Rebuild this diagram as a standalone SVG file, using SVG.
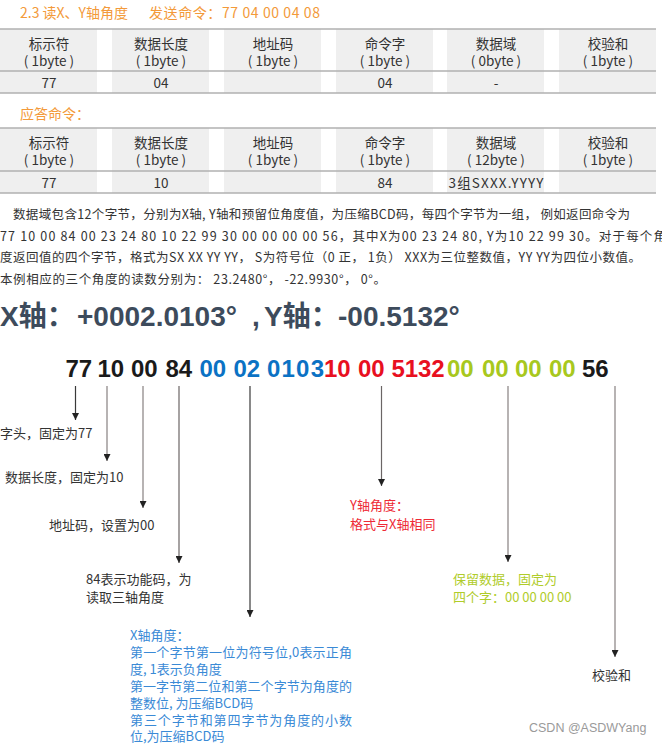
<svg xmlns="http://www.w3.org/2000/svg" width="662" height="745" viewBox="0 0 662 745">
<defs>
<style>
.cjk{font-family:"Noto Sans CJK SC","Noto Sans",sans-serif;}
.t{font-size:13px;fill:#333;}
.th{font-size:13.5px;fill:#333;text-anchor:middle;}
.orange{font-size:14px;fill:#F39A3A;}
.cell{fill:#efefef;}
.rule{stroke:#b0b0b0;stroke-width:1.5;}
.para{font-size:12.5px;fill:#333;}
.big{font-family:"Liberation Sans","Noto Sans CJK SC",sans-serif;font-weight:bold;font-size:28px;fill:#3d4b5c;}
.bytes{font-family:"Liberation Sans",Arial,sans-serif;font-weight:bold;font-size:24px;}
.k{fill:#1a1a1a;} .b{fill:#0b72c4;} .r{fill:#e8101f;} .g{fill:#a8c81e;}
.lblue{fill:#3a8ad6;} .lred{fill:#ee2a36;} .lgreen{fill:#b0cc2a;}
.dark{stroke:#3a3a3a;stroke-width:1.2;fill:none;}
.mid{stroke:#6b6565;stroke-width:1.2;fill:none;}
.light{stroke:#a5a0a0;stroke-width:1.6;fill:none;}
</style>
<marker id="ah" viewBox="0 0 8 8" refX="8" refY="4" markerWidth="7" markerHeight="7" markerUnits="userSpaceOnUse" orient="auto">
<path d="M0,0 L8,4 L0,8 z" fill="#222"/>
</marker>
</defs>
<rect width="662" height="745" fill="#fff"/>

<g id="title">
<text class="cjk orange" x="20" y="18">2.3 读X、Y轴角度</text>
<text class="cjk orange" x="149" y="18" textLength="171">发送命令：77 04 00 04 08</text>
</g>

<g id="table-send">
<rect class="cell" x="0" y="29" width="97" height="64"/>
<rect class="cell" x="112" y="29" width="97" height="64"/>
<rect class="cell" x="224" y="29" width="97" height="64"/>
<rect class="cell" x="336" y="29" width="97" height="64"/>
<rect class="cell" x="447" y="29" width="97" height="64"/>
<rect class="cell" x="559" y="29" width="97" height="64"/>
<line class="rule" x1="0" y1="29" x2="656" y2="29"/>
<line class="rule" x1="0" y1="71" x2="656" y2="71"/>
<line class="rule" x1="0" y1="93" x2="656" y2="93"/>
<g class="cjk th">
<text><tspan x="49" y="49">标示符</tspan><tspan x="49" y="66">( 1byte )</tspan></text>
<text><tspan x="161" y="49">数据长度</tspan><tspan x="161" y="66">( 1byte )</tspan></text>
<text><tspan x="273" y="49">地址码</tspan><tspan x="273" y="66">( 1byte )</tspan></text>
<text><tspan x="385" y="49">命令字</tspan><tspan x="385" y="66">( 1byte )</tspan></text>
<text><tspan x="496" y="49">数据域</tspan><tspan x="496" y="66">( 0byte )</tspan></text>
<text><tspan x="608" y="49">校验和</tspan><tspan x="608" y="66">( 1byte )</tspan></text>
<text x="49" y="88">77</text>
<text x="161" y="88">04</text>
<text x="385" y="88">04</text>
<text x="496" y="88">-</text>
</g>
</g>

<g id="reply-title">
<text class="cjk orange" x="20" y="119">应答命令：</text>
</g>

<g id="table-reply">
<rect class="cell" x="0" y="128" width="97" height="65"/>
<rect class="cell" x="112" y="128" width="97" height="65"/>
<rect class="cell" x="224" y="128" width="97" height="65"/>
<rect class="cell" x="336" y="128" width="97" height="65"/>
<rect class="cell" x="447" y="128" width="97" height="65"/>
<rect class="cell" x="559" y="128" width="97" height="65"/>
<line class="rule" x1="0" y1="128" x2="656" y2="128"/>
<line class="rule" x1="0" y1="171" x2="656" y2="171"/>
<line class="rule" x1="0" y1="193" x2="656" y2="193"/>
<g class="cjk th">
<text><tspan x="49" y="148">标示符</tspan><tspan x="49" y="165">( 1byte )</tspan></text>
<text><tspan x="161" y="148">数据长度</tspan><tspan x="161" y="165">( 1byte )</tspan></text>
<text><tspan x="273" y="148">地址码</tspan><tspan x="273" y="165">( 1byte )</tspan></text>
<text><tspan x="385" y="148">命令字</tspan><tspan x="385" y="165">( 1byte )</tspan></text>
<text><tspan x="496" y="148">数据域</tspan><tspan x="496" y="165">( 12byte )</tspan></text>
<text><tspan x="608" y="148">校验和</tspan><tspan x="608" y="165">( 1byte )</tspan></text>
<text x="49" y="188">77</text>
<text x="161" y="188">10</text>
<text x="385" y="188">84</text>
<text x="496" y="188" textLength="95">3组SXXX.YYYY</text>
</g>
</g>

<g id="paragraph" class="cjk para">
<text x="13" y="219" textLength="617">数据域包含12个字节，分别为X轴, Y轴和预留位角度值，为压缩BCD码，每四个字节为一组， 例如返回命令为</text>
<text x="0" y="241" textLength="666">77 10 00 84 00 23 24 80 10 22 99 30 00 00 00 00 56，其中X为00 23 24 80, Y为10 22 99 30。对于每个角</text>
<text x="0" y="262" textLength="641">度返回值的四个字节，格式为SX XX YY YY， S为符号位（0 正， 1负） XXX为三位整数值，YY YY为四位小数值。</text>
<text x="0" y="284" textLength="386">本例相应的三个角度的读数分别为： 23.2480°， -22.9930°， 0°。</text>
</g>

<g id="result">
<text class="big" y="326"><tspan x="0">X轴：</tspan><tspan x="77">+0002.0103°</tspan><tspan x="252">,</tspan><tspan x="264">Y轴：</tspan><tspan x="338">-00.5132°</tspan></text>
</g>

<g id="bytes" class="bytes">
<text class="k" y="377"><tspan x="65.5">77</tspan><tspan x="97.5">10</tspan><tspan x="131">00</tspan><tspan x="165.5">84</tspan></text>
<text class="b" y="377"><tspan x="199.5">00</tspan><tspan x="233.5">02</tspan><tspan x="267" textLength="57">0103</tspan></text>
<text class="r" y="377"><tspan x="324">10</tspan><tspan x="358">00</tspan><tspan x="391.5" textLength="53">5132</tspan></text>
<text class="g" y="377"><tspan x="447">00</tspan><tspan x="482">00</tspan><tspan x="515">00</tspan><tspan x="549">00</tspan></text>
<text class="k" y="377"><tspan x="582">56</tspan></text>
</g>

<g id="connectors">
<line class="dark" x1="75.5" y1="386" x2="75.5" y2="420" marker-end="url(#ah)"/>
<line class="light" x1="107" y1="386" x2="107" y2="461" marker-end="url(#ah)"/>
<line class="light" x1="143" y1="386" x2="143" y2="508" marker-end="url(#ah)"/>
<line class="mid" x1="179" y1="386" x2="179" y2="563" marker-end="url(#ah)"/>
<line class="dark" x1="250" y1="386" x2="250" y2="617" marker-end="url(#ah)"/>
<line class="mid" x1="381.5" y1="386" x2="381.5" y2="486" marker-end="url(#ah)"/>
<line class="light" x1="508" y1="386" x2="508" y2="562" marker-end="url(#ah)"/>
<line class="light" x1="615" y1="386" x2="615" y2="657" marker-end="url(#ah)"/>
</g>

<g id="label-header"><text class="cjk t" x="0" y="438">字头，固定为77</text></g>
<g id="label-length"><text class="cjk t" x="5" y="482">数据长度，固定为10</text></g>
<g id="label-address"><text class="cjk t" x="49" y="530">地址码，设置为00</text></g>
<g id="label-command"><text class="cjk t"><tspan x="86" y="584">84表示功能码，为</tspan><tspan x="86" y="602">读取三轴角度</tspan></text></g>
<g id="label-x">
<text class="cjk t lblue"><tspan x="130" y="640">X轴角度：</tspan><tspan x="130" y="657" textLength="222">第一个字节第一位为符号位,0表示正角</tspan><tspan x="130" y="674">度, 1表示负角度</tspan><tspan x="130" y="691" textLength="222">第一字节第二位和第二个字节为角度的</tspan><tspan x="130" y="708">整数位, 为压缩BCD码</tspan><tspan x="130" y="725" textLength="222">第三个字节和第四字节为角度的小数</tspan><tspan x="130" y="741">位,为压缩BCD码</tspan></text>
</g>
<g id="label-y">
<text class="cjk t lred"><tspan x="350" y="510">Y轴角度：</tspan><tspan x="350" y="529">格式与X轴相同</tspan></text>
</g>
<g id="label-reserved">
<text class="cjk t lgreen"><tspan x="453" y="584">保留数据，固定为</tspan><tspan x="453" y="602">四个字：00 00 00 00</tspan></text>
</g>
<g id="label-checksum"><text class="cjk t" x="592" y="680">校验和</text></g>

<g id="watermark"><text x="529" y="732" font-family="'Liberation Sans',Arial,sans-serif" font-size="12.5" fill="#9a9a9a">CSDN @ASDWYang</text></g>
</svg>
